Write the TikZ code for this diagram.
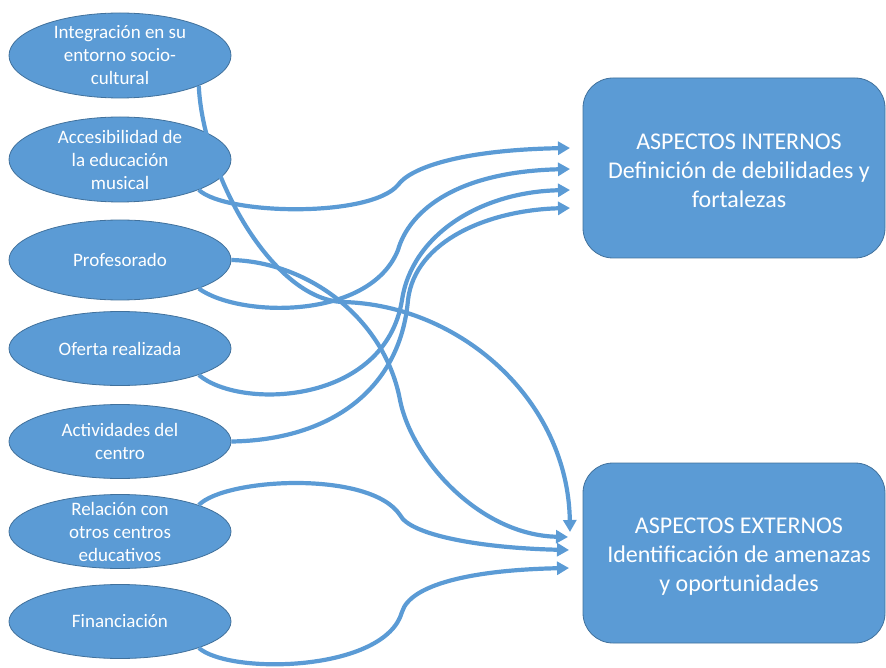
\documentclass[tikz,border=0pt]{standalone}
\usepackage{fontspec}
\setmainfont{Carlito}
\usetikzlibrary{shapes.geometric,arrows.meta}
\definecolor{obl}{HTML}{5B9BD5}
\definecolor{obd}{HTML}{41719C}
\begin{document}
\begin{tikzpicture}[x=1pt,y=-1pt,
  oval/.style={ellipse, fill=obl, draw=obd, line width=0.8pt, minimum width=222pt, inner sep=0pt},
  ovaltext/.style={text=white, align=center, inner sep=0pt, font=\fontsize{19}{23}\selectfont},
  box/.style={rectangle, rounded corners=30pt, fill=obl, draw=obd, line width=0.8pt, minimum width=302pt, minimum height=180pt},
  boxtext/.style={text=white, align=center, inner sep=0pt, font=\fontsize{24}{29}\selectfont},
  conn/.style={draw=obl, line width=4.2pt, -{Triangle[length=12pt,width=13pt]}}
]
\useasboundingbox (0,0) rectangle (886,668);

% left ellipses
\node[oval, minimum height=85pt] (e1) at (120,55.5) {};
\node[oval, minimum height=85pt] (e2) at (120,159.5) {};
\node[oval, minimum height=80pt] (e3) at (120,260) {};
\node[oval, minimum height=74pt] (e4) at (120,348.5) {};
\node[oval, minimum height=74pt] (e5) at (120,441.5) {};
\node[oval, minimum height=74pt] (e6) at (120,531.5) {};
\node[oval, minimum height=74pt] (e7) at (120,621.5) {};

\node[ovaltext] (t1) at (e1) {Integración en su\\entorno socio-\\cultural};
\node[ovaltext] (t2) at (e2) {Accesibilidad de\\la educación\\musical};
\node[ovaltext] (t3) at (e3) {Profesorado};
\node[ovaltext] (t4) at (e4) {Oferta realizada};
\node[ovaltext] (t5) at (e5) {Actividades del\\centro};
\node[ovaltext] (t6) at (e6) {Relación con\\otros centros\\educativos};
\node[ovaltext] (t7) at (e7) {Financiación};

% right boxes
\node[box] (b1) at (734,168) {};
\node[box] (b2) at (734,553) {};
\node[boxtext] (bt1) at ([xshift=5pt,yshift=-3pt]b1.center) {ASPECTOS INTERNOS\\Definición de debilidades y\\fortalezas};
\node[boxtext] (bt2) at ([xshift=5pt,yshift=-4pt]b2.center) {ASPECTOS EXTERNOS\\Identificación de amenazas\\y oportunidades};

% arrow tips
\coordinate (i1) at (570,148);
\coordinate (i2) at (570,169);
\coordinate (i3) at (570,190);
\coordinate (i4) at (570,208);
\coordinate (x1) at (570,532);
\coordinate (x2) at (568,537);
\coordinate (x3) at (569,550);
\coordinate (x4) at (569,568);

% connectors to internal aspects
\draw[conn] (e2.south east) .. controls (225,215) and (370,218) .. (398,185)
  .. controls (410,168) and (460,150) .. (i1);
\draw[conn] (e3.south east) .. controls (240,318) and (370,320) .. (398,250)
  .. controls (408,215) and (450,172) .. (i2);
\draw[conn] (e4.south east) .. controls (240,410) and (385,405) .. (402,300)
  .. controls (412,235) and (480,192) .. (i3);
\draw[conn] (e5.east) .. controls (330,440) and (400,390) .. (408,300)
  .. controls (415,240) and (490,210) .. (i4);

% connectors to external aspects
\draw[conn] (e1.south east) .. controls (203,175) and (273,300) .. (343,302)
  .. controls (460,305) and (568,400) .. (x1);
\draw[conn] (e3.east) .. controls (310,262) and (385,320) .. (400,400)
  .. controls (412,460) and (480,535) .. (x2);
\draw[conn] (e6.north east) .. controls (225,478) and (370,470) .. (400,515)
  .. controls (410,535) and (480,548) .. (x3);
\draw[conn] (e7.south east) .. controls (230,675) and (385,672) .. (402,612)
  .. controls (410,585) and (470,570) .. (x4);
\end{tikzpicture}
\end{document}
